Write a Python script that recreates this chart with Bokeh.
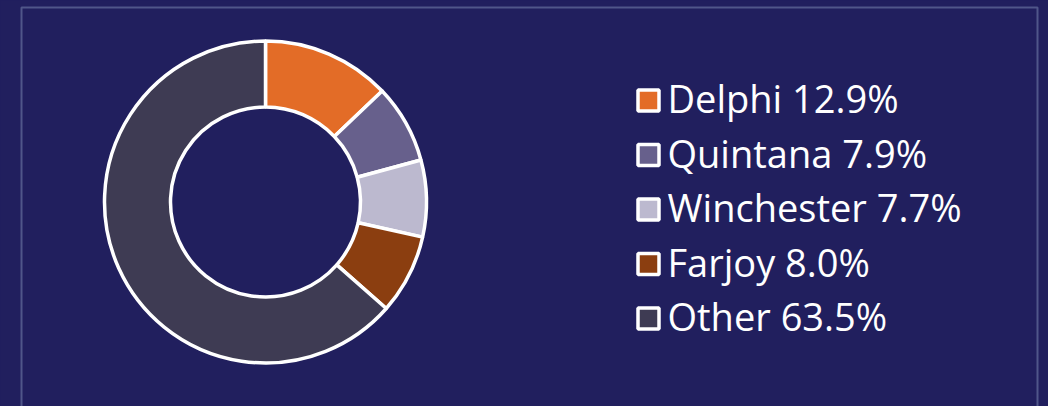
import math
from bokeh.plotting import figure
from bokeh.models import Range1d, BoxAnnotation, ColumnDataSource
from bokeh.core.properties import value
from bokeh.embed import file_html
from bokeh.resources import INLINE

# ---- data ----
names = ["Delphi", "Quintana", "Winchester", "Farjoy", "Other"]
shares = [12.9, 7.9, 7.7, 8.0, 63.5]
colors = ["#E36C27", "#67608C", "#BCB9CF", "#8B3E10", "#3E3B53"]

BG = "#211F5E"

# ---- layout constants (screen-pixel based coordinates, y = -screen_y) ----
W, H = 1048, 406
cx, cy = 265, -201.5
r_in, r_out = 95, 161

total = sum(shares)
starts, ends = [], []
acc = 0.0
for s in shares:
    a0 = math.pi / 2 - acc / total * 2 * math.pi
    acc += s
    a1 = math.pi / 2 - acc / total * 2 * math.pi
    starts.append(a0)
    ends.append(a1)

src = ColumnDataSource(dict(
    name=names, share=shares, color=colors, start=starts, end=ends,
    x=[cx] * len(names), y=[cy] * len(names),
))

p = figure(width=W, height=H, output_backend="svg", toolbar_location=None,
           x_range=Range1d(0, W), y_range=Range1d(-H, 0),
           min_border=0, background_fill_color=BG, border_fill_color=BG,
           outline_line_color=None)
p.axis.visible = False
p.grid.visible = False

p.annular_wedge(x="x", y="y", inner_radius=r_in, outer_radius=r_out,
                start_angle="start", end_angle="end", direction="clock",
                fill_color="color", line_color="white", line_width=3.5,
                source=src)

# legend (manual)
row0, step = 100, 54.5
lx = [648] * len(names)
ly = [-(row0 + i * step) for i in range(len(names))]
labels = [f"{n} {s:.1f}%" for n, s in zip(names, shares)]
lsrc = ColumnDataSource(dict(x=lx, y=ly, color=colors, label=labels,
                             tx=[667] * len(names),
                             ty=[y + 2.5 for y in ly]))
p.scatter(x="x", y="y", marker="square", size=21, fill_color="color",
          line_color="white", line_width=3.5, source=lsrc)
p.text(x="tx", y="ty", text="label", text_color="white",
       text_font=value("Open Sans"), text_font_size="38px",
       text_baseline="alphabetic", text_align="left", source=lsrc)

# frame border
p.add_layout(BoxAnnotation(left=21, right=1037, top=-7, bottom=-430,
                           fill_alpha=0, line_color="#BCD8F0", line_width=2))

html = file_html(p, INLINE)
html = html.replace("</head>", "<style>body{background:%s;}</style></head>" % BG, 1)
open("out.html", "w").write(html)
